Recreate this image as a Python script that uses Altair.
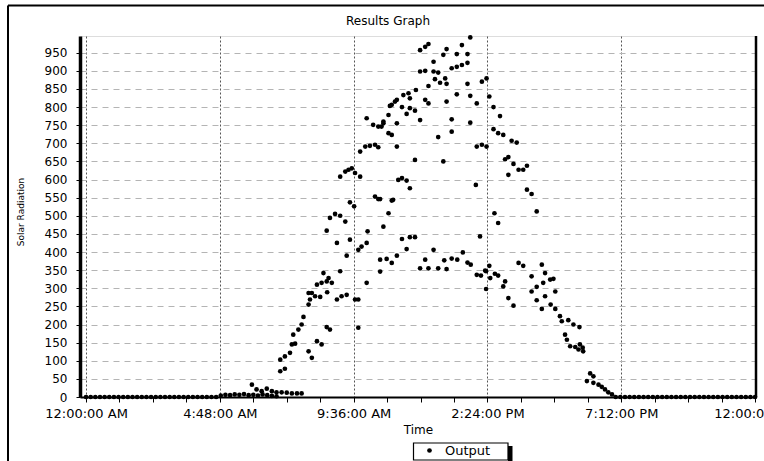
import altair as alt
import pandas as pd

# ---- data (minutes after midnight, solar radiation) ----
am_times = [0, 10, 20, 30, 40, 50, 60, 70, 80, 90, 100, 110, 120, 130, 140, 150, 160, 170, 180, 190,
            200, 210, 220, 230, 240, 250, 260, 270, 280, 290, 300, 310, 320, 330, 340, 350, 360, 370,
            380, 390, 400, 410]
am_values = [0, 0, 0, 0, 0, 0, 0, 0, 0, 0, 0, 0, 0, 0, 0, 0, 0, 0, 0, 0,
             0, 0, 0, 0, 0, 0, 0, 0, 0, 4, 6, 5, 7, 6, 8, 5, 6, 4,
             7, 5, 3, 2]

pm_times = [1140, 1150, 1160, 1170, 1180, 1190, 1200, 1210, 1220, 1230, 1240, 1250, 1260, 1270,
            1280, 1290, 1300, 1310, 1320, 1330, 1340, 1350, 1360, 1370, 1380, 1390, 1400, 1410,
            1420, 1430, 1440]
pm_values = [0, 0, 0, 0, 0, 0, 0, 0, 0, 0, 0, 0, 0, 0,
             0, 0, 0, 0, 0, 0, 0, 0, 0, 0, 0, 0, 0, 0,
             0, 0, 0]

day_times = [
    357, 367, 378, 389, 400, 410, 421, 432, 443, 454, 464,
    418, 428, 418, 428, 439, 443, 450, 446, 457, 464, 468, 479, 482, 479, 486, 493, 504, 497, 507,
    518, 522, 511, 529, 519, 540, 550, 561, 579, 547, 518, 525, 479, 486, 497, 507, 586, 540, 561,
    568, 586, 593, 604, 604, 518, 606, 640, 536, 547, 525, 558, 651, 568, 577, 565, 572, 558, 547,
    579, 590, 622, 629, 661, 672, 590, 601, 611, 622, 629, 604, 618, 629, 640, 651, 669, 651, 658,
    669, 654, 665, 633, 586,
    827, 719, 730, 737, 776, 809, 769, 798, 821, 748, 719, 730, 748, 758, 787, 798, 809, 821, 751,
    762, 773, 776, 737, 821, 852, 862, 710, 694, 683, 669, 658, 697, 730, 737, 798, 827, 868, 776,
    841, 680, 697, 708, 690, 719, 787, 827, 640, 636, 787, 758, 841, 852, 862, 708, 769, 680, 690,
    697, 658, 633, 680, 697, 708, 690, 839, 848, 879, 887, 633, 647, 658, 669, 748, 730, 719, 737,
    758, 776, 771, 787, 799, 811, 821, 828, 841, 850, 861, 868, 870, 861, 880, 887, 859,
    877, 891, 877, 887, 898, 916, 927, 902, 909, 920, 931, 941, 949, 909, 949, 959, 970, 902, 898,
    909, 920, 931, 941, 981, 959, 988, 984, 999, 1006, 959, 970, 1010, 970, 988, 981, 1000, 1010,
    1020, 1024, 1038, 1049, 1062, 1031, 1035, 1042, 1053, 1063, 1069, 1070, 1060, 1085, 1092, 1078,
    1092, 1103, 1110, 1117, 1124, 1132]
day_values = [
    34, 21, 16, 23, 16, 13, 13, 12, 10, 10, 10,
    71, 78, 103, 112, 122, 145, 147, 172, 186, 200, 221, 255, 269, 287, 287, 278, 276, 310, 315,
    319, 328, 342, 315, 289, 269, 278, 282, 269, 347, 193, 186, 126, 108, 154, 145, 191, 425, 390,
    434, 406, 415, 425, 315, 459, 457, 470, 505, 500, 494, 484, 507, 537, 526, 627, 631, 622, 608,
    618, 608, 553, 546, 544, 599, 677, 691, 693, 696, 689, 769, 751, 746, 755, 778, 755, 728, 723,
    691, 803, 815, 346, 269,
    992, 957, 966, 974, 960, 971, 944, 946, 946, 925, 898, 900, 898, 895, 907, 911, 916, 922, 877,
    867, 879, 864, 858, 864, 870, 879, 847, 838, 833, 820, 806, 824, 820, 810, 835, 831, 829, 815,
    810, 800, 797, 790, 781, 764, 766, 757, 760, 746, 732, 717, 691, 696, 691, 654, 650, 604, 597,
    576, 542, 546, 436, 441, 441, 408, 585, 443, 507, 480, 379, 381, 370, 390, 406, 379, 355, 355,
    355, 353, 377, 382, 379, 399, 371, 365, 337, 335, 347, 362, 328, 298, 340, 335, 349,
    800, 775, 739, 728, 723, 707, 702, 656, 662, 643, 627, 627, 638, 613, 572, 560, 512, 319, 305,
    273, 252, 370, 362, 365, 333, 342, 315, 324, 326, 291, 304, 291, 267, 278, 243, 255, 243,
    223, 209, 212, 200, 193, 172, 158, 140, 138, 145, 136, 126, 131, 65, 57, 44,
    39, 34, 28, 21, 13, 7]

x_tick_values = [0, 72, 144, 216, 288, 360, 432, 504, 576, 648, 720, 792, 864, 936, 1008,
                 1080, 1152, 1224, 1296, 1368, 1440]
x_tick_labels = ["12:00:00 AM", "4:48:00 AM", "9:36:00 AM", "2:24:00 PM", "7:12:00 PM", "12:00:00 AM"]
y_tick_values = [0, 50, 100, 150, 200, 250, 300, 350, 400, 450, 500, 550, 600, 650, 700, 750,
                 800, 850, 900, 950]
series_name = "Output"
chart_title = "Results Graph"

times = am_times + day_times + pm_times
values = am_values + day_values + pm_values
df = pd.DataFrame({"minute": times, "radiation": values, "series": series_name})

FONT = "DejaVu Sans"
label_js = "[" + ",".join("'%s'" % s for s in x_tick_labels) + "]"

points = alt.Chart(df).mark_point(filled=True, shape="circle", size=22, opacity=1).encode(
    x=alt.X(
        "minute:Q",
        scale=alt.Scale(domain=[-13, 1442], nice=False, zero=False),
        axis=alt.Axis(
            values=x_tick_values,
            labelExpr="datum.value % 288 == 0 ? " + label_js + "[datum.value / 288] : ''",
            title="Time",
            grid=True,
            gridOpacity={"condition": {"test": "datum.value % 288 == 0", "value": 1}, "value": 0},
            gridColor="#555555",
            gridDash=[2, 2],
            gridWidth=1,
            domainColor="black",
            domainWidth=2,
            tickColor="black",
            tickSize=5,
            labelFont=FONT,
            labelFontSize=13,
            labelColor="black",
            labelPadding=5,
            labelFlush=False,
            labelOverlap=False,
            titleFont=FONT,
            titleFontSize=12,
            titleFontWeight="normal",
            titleColor="black",
            titleY=32,
            titleBaseline="middle",
        ),
    ),
    y=alt.Y(
        "radiation:Q",
        scale=alt.Scale(domain=[0, 996], nice=False, zero=False),
        axis=alt.Axis(
            values=y_tick_values,
            title="Solar Radiation",
            grid=True,
            gridColor="#b4b4b4",
            gridDash=[6, 5],
            gridWidth=1,
            domainColor="black",
            domainWidth=3.5,
            tickColor="black",
            tickSize=4,
            labelFont=FONT,
            labelFontSize=12,
            labelColor="black",
            labelPadding=9,
            titleFont=FONT,
            titleFontSize=9,
            titleFontWeight="normal",
            titleColor="black",
            titleX=-59.5,
            titleY=175.5,
            titleAlign="center",
            titleBaseline="middle",
        ),
    ),
    color=alt.Color(
        "series:N",
        scale=alt.Scale(range=["black"]),
        legend=alt.Legend(
            title=None,
            orient="none",
            legendX=343,
            legendY=408,
            symbolType="circle",
            symbolSize=22,
            symbolStrokeWidth=0,
            labelFont=FONT,
            labelFontSize=13,
            labelColor="black",
            labelOffset=9,
            padding=0,
        ),
    ),
)

deco = pd.DataFrame({"k": [0]})
# outer frame (top and left edges)
frame_top = alt.Chart(deco).mark_rule(color="black", strokeWidth=2).encode(
    x=alt.value(-72), x2=alt.value(700), y=alt.value(-30.5), y2=alt.value(-30.5))
frame_left = alt.Chart(deco).mark_rule(color="black", strokeWidth=2).encode(
    x=alt.value(-72), x2=alt.value(-72), y=alt.value(-30.5), y2=alt.value(440))
# right border of plot
plot_right = alt.Chart(deco).mark_rule(color="black", strokeWidth=2.5).encode(
    x=alt.value(676), x2=alt.value(676), y=alt.value(0), y2=alt.value(361))
# legend box with shadow
legend_shadow = alt.Chart(deco).mark_rect(color="black").encode(
    x=alt.value(428), x2=alt.value(432.5), y=alt.value(410), y2=alt.value(430))
legend_box = alt.Chart(deco).mark_rect(fill="white", stroke="black", strokeWidth=1.2).encode(
    x=alt.value(333.5), x2=alt.value(428), y=alt.value(407), y2=alt.value(424))
# chart title
title_text = alt.Chart(deco).mark_text(
    font=FONT, fontSize=12, color="black", align="center", baseline="middle"
).encode(x=alt.value(308), y=alt.value(-15), text=alt.value(chart_title))

chart = alt.layer(
    frame_top, frame_left, plot_right, legend_shadow, legend_box, title_text, points
).properties(
    width=676,
    height=361,
    autosize=alt.AutoSizeParams(type="none"),
    padding={"left": 80, "top": 36, "right": 8, "bottom": 64},
).configure_view(stroke="#333333", strokeWidth=2).configure(background="white")

chart.save("out.html", embed_options={"renderer": "svg", "actions": False})
